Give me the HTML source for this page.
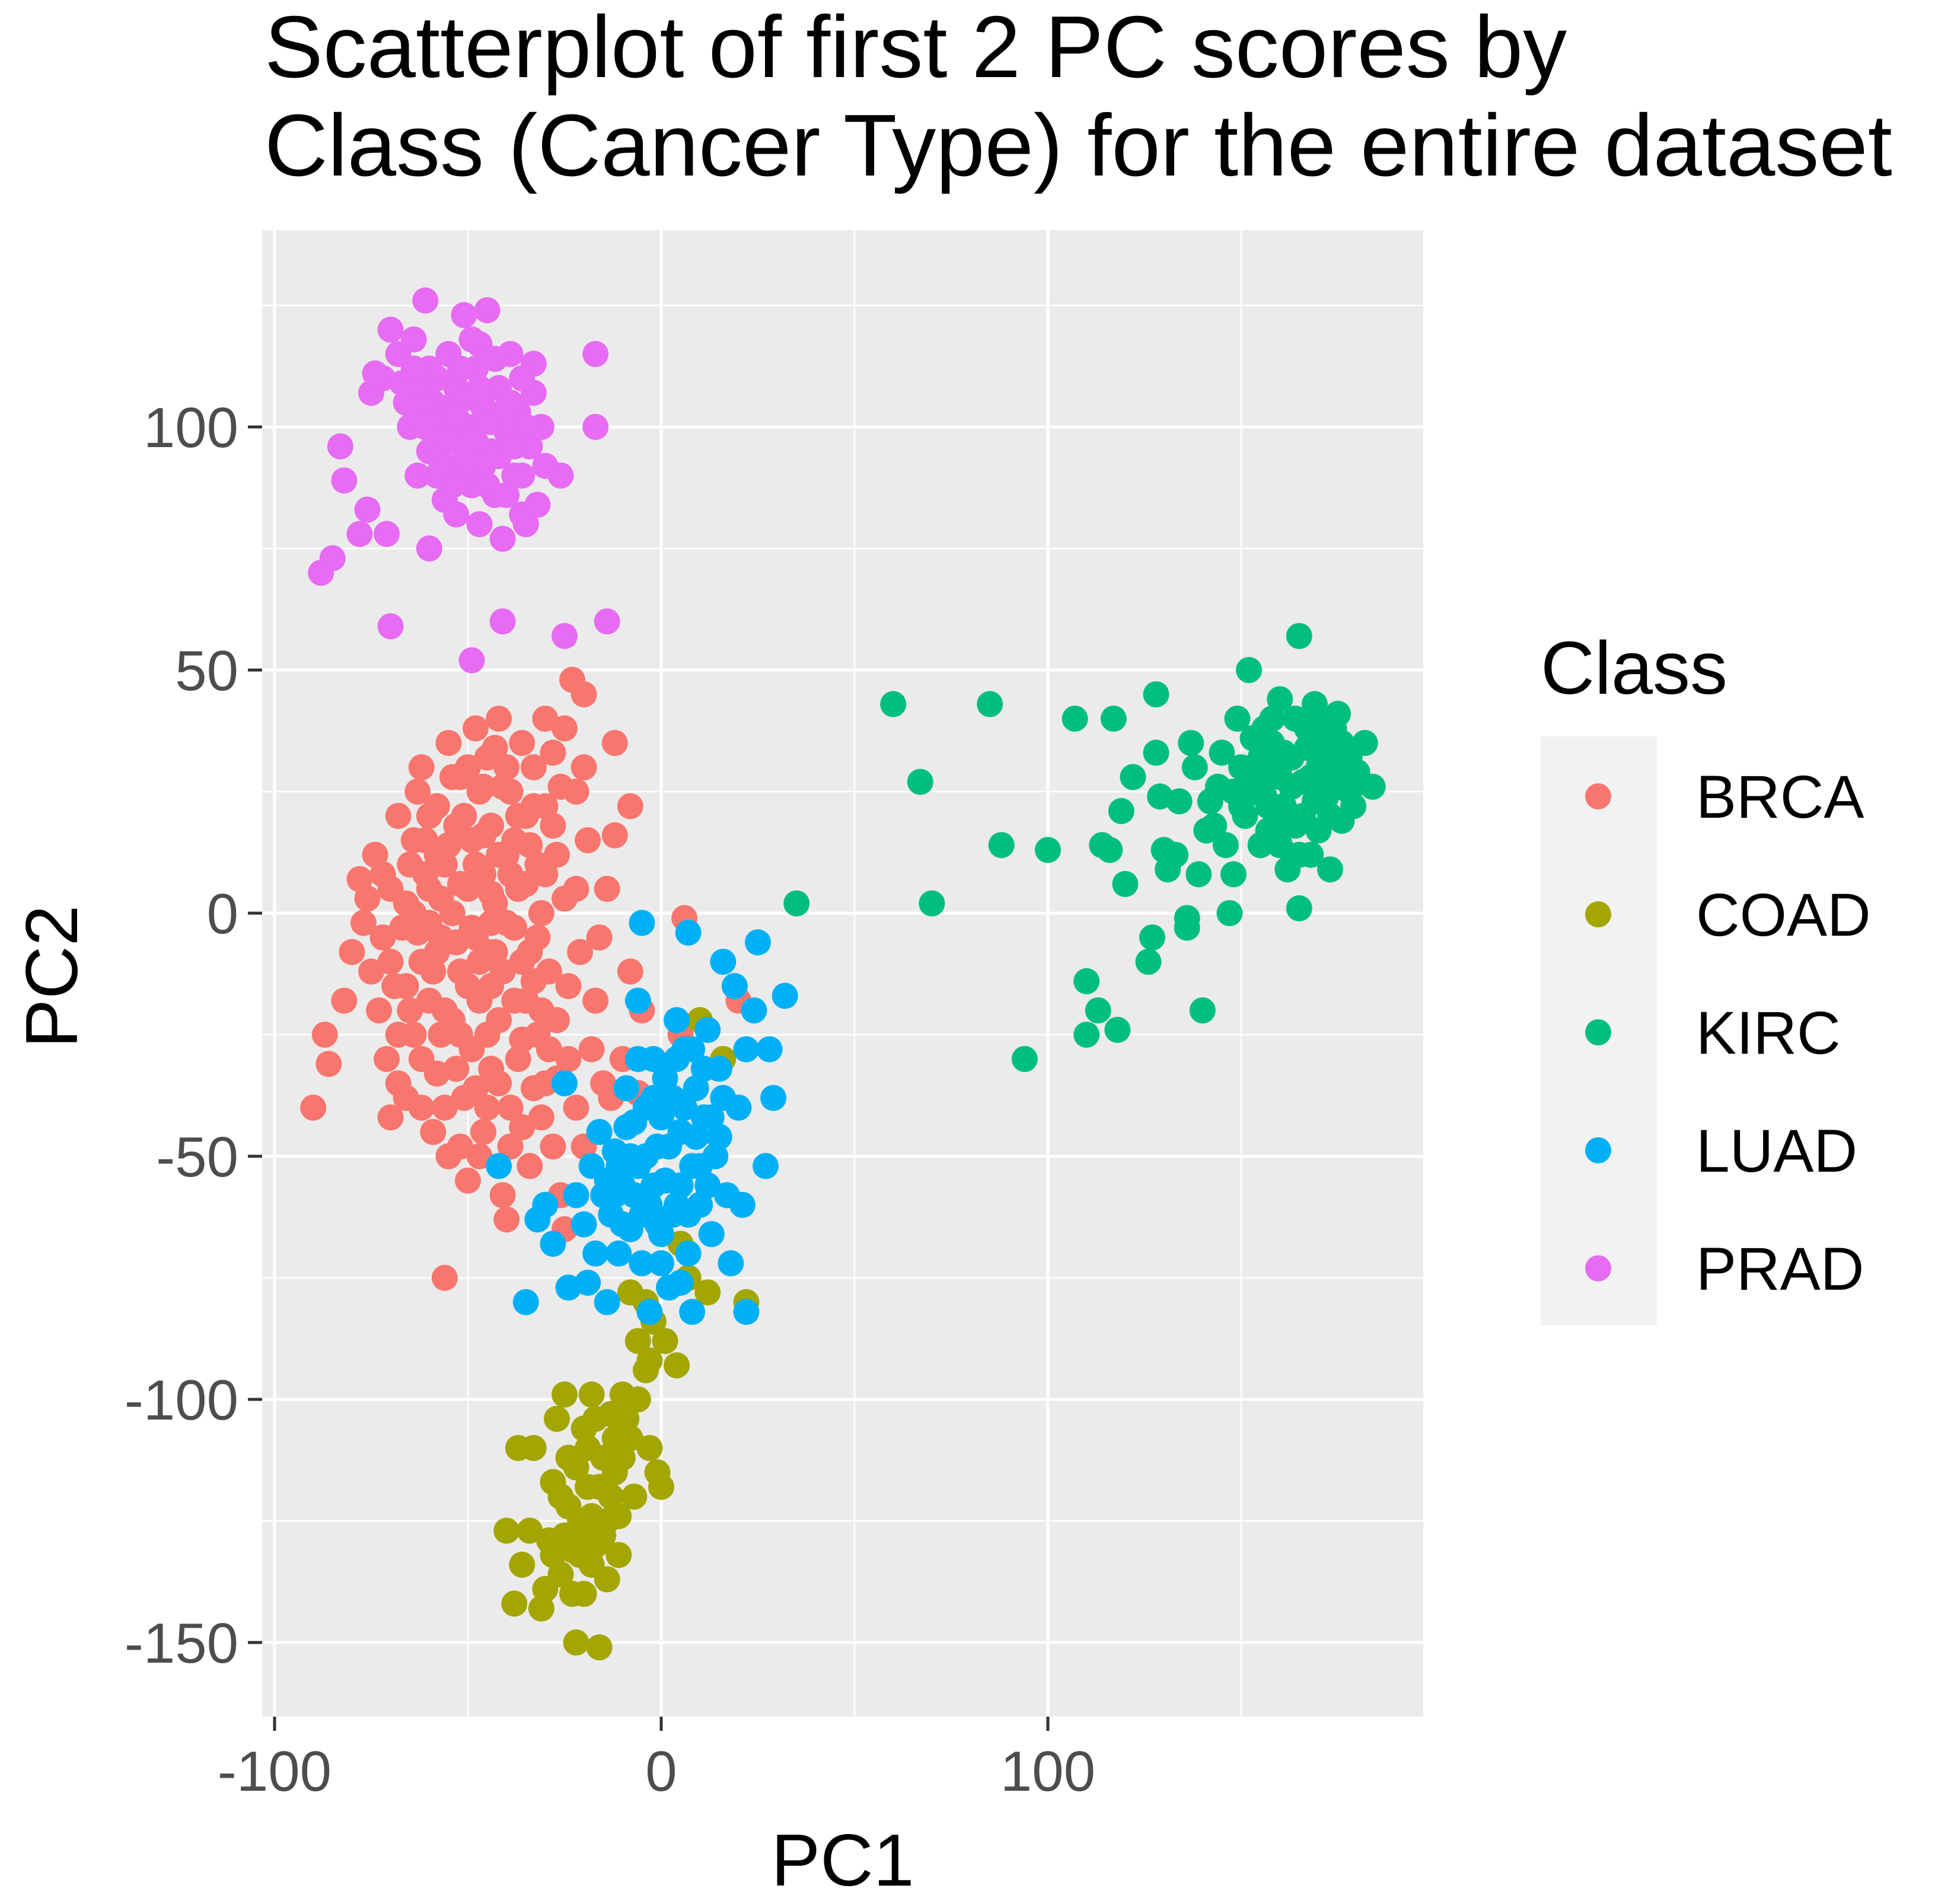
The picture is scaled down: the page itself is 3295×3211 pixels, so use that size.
<!DOCTYPE html>
<html><head><meta charset="utf-8"><style>
html,body{margin:0;padding:0;background:#fff}
svg{display:block}
text{font-family:"Liberation Sans",Arial,sans-serif}
</style></head><body>
<svg id="chart" width="3295" height="3211" viewBox="0 0 3295 3211" xmlns="http://www.w3.org/2000/svg">
<text x="446" y="130" font-size="148" fill="#000">Scatterplot of first 2 PC scores by</text>
<text x="446" y="296" font-size="148" fill="#000">Class (Cancer Type) for the entire dataset</text>
<rect x="442" y="388" width="1958" height="2507" fill="#EBEBEB"/>
<g id="grid"></g>
<g id="points"></g>
<g id="axes"></g>
<text x="1421" y="3180" font-size="124" text-anchor="middle" fill="#000">PC1</text>
<text x="0" y="0" font-size="124" text-anchor="middle" fill="#000" transform="translate(130,1647) rotate(-90)">PC2</text>
<text x="2598" y="1170" font-size="126" fill="#000">Class</text>
<rect x="2598" y="1242" width="196" height="993" fill="#F2F2F2"/>
<g id="legend"></g>
</svg>
<script>
const classes = ["BRCA","COAD","KIRC","LUAD","PRAD"];
const colors = ["#F8766D","#A3A500","#00BF7D","#00B0F6","#E76BF3"];
const xTicks = [-100,0,100];
const xMinor = [-50,50,150];
const yTicks = [-150,-100,-50,0,50,100];
const yMinor = [-125,-75,-25,25,75,125];
const PRAD = [[-88,70],[-85,73],[-83,96],[-82,89],[-78,78],[-76,83],[-75,107],[-72,110],[-71,78],[-70,59],[-70,120],[-68,115],[-66,105],[-65,100],[-64,118],[-63,90],[-61,126],[-60,75],[-60,95],[-58,110],[-57,102],[-56,85],[-55,115],[-54,97],[-53,108],[-52,92],[-51,123],[-50,100],[-49,52],[-49,88],[-48,112],[-47,80],[-46,104],[-45,124],[-44,95],[-43,86],[-42,108],[-41,60],[-41,77],[-40,99],[-39,115],[-38,90],[-37,103],[-36,82],[-35,80],[-34,96],[-33,113],[-33,107],[-32,84],[-31,100],[-30,92],[-26,90],[-25,57],[-17,100],[-17,115],[-14,60],[-62,108],[-57,93],[-47,117],[-53,82],
[-74,111],[-67,109],[-63,103],[-59,105],[-55,104],[-52,112],[-50,106],[-48,97],[-46,92],[-44,101],[-42,94],[-39,105],[-36,110],[-35,100],[-56,98],[-60,112],[-49,118],[-43,114],[-38,96],[-45,88],[-53,102],[-58,90],[-40,86],[-47,108],[-64,112],[-50,93],[-54,88],[-36,90],[-41,103],[-61,100]];
const BRCA = [[-90,-40],[-87,-25],[-86,-31],[-82,-18],[-80,-8],[-78,7],[-77,-2],[-76,3],[-75,-12],[-74,12],[-73,-20],[-72,-5],[-71,-30],[-70,-42],[-70,5],[-69,-15],[-68,20],[-67,-3],[-66,-38],[-65,10],[-64,-25],[-64,0],[-63,25],[-62,-10],[-62,30],[-61,15],[-60,-18],[-60,5],[-59,-45],[-58,-33],[-58,22],[-57,-5],[-56,10],[-56,-75],[-55,-50],[-55,35],[-54,-22],[-54,0],[-53,18],[-52,-12],[-52,28],[-51,-38],[-50,5],[-50,-55],[-49,-28],[-49,15],[-48,38],[-48,-5],[-47,25],[-47,-18],[-46,-45],[-46,8],[-45,-8],[-45,32],[-44,-32],[-44,18],[-43,2],[-42,-22],[-42,40],[-41,-12],[-41,-58],[-40,-63],[-40,12],[-39,25],[-39,-40],[-38,-3],[-37,-30],[-37,5],[-36,35],[-35,-18],[-35,20],[-34,-52],[-34,-8],[-33,30],[-32,-25],[-32,10],[-31,-42],[-31,0],[-30,22],[-30,-35],[-29,-12],[-28,33],[-28,-48],[-27,-22],[-27,12],[-26,-58],[-25,-65],[-25,3],[-24,-30],[-23,48],[-22,25],[-22,-40],[-21,-8],[-20,45],[-20,-48],[-19,15],[-17,-18],[-15,-35],[-14,5],[-13,-38],[-12,35],[-12,16],[-10,-30],[-8,22],[-8,-12],[-6,-37],[-5,-20],[6,-1],[5,-25],[20,-18],[-66,-15],[-58,-8],[-52,-25],[-44,-15],[-38,15],[-36,-10],[-62,-30],[-68,-35],
[-66,2],[-63,-4],[-61,8],[-59,-12],[-57,3],[-56,-20],[-55,14],[-53,-6],[-52,6],[-51,20],[-50,-15],[-49,-3],[-48,10],[-47,-10],[-46,16],[-45,-25],[-44,4],[-43,-8],[-42,12],[-41,26],[-40,-2],[-39,8],[-38,-18],[-37,20],[-36,-26],[-35,6],[-34,14],[-33,-14],[-33,22],[-31,-20],[-30,8],[-29,-28],[-28,18],[-27,-34],[-26,26],[-60,20],[-58,12],[-54,28],[-50,30],[-46,26],[-43,34],[-40,30],[-57,-25],[-53,-32],[-48,-36],[-45,-40],[-42,-35],[-39,-48],[-36,-44],[-33,-36],[-70,-10],[-72,8],[-65,-20],[-68,-25],[-62,-40],[-56,-40],[-52,-48],[-47,-50],[-64,15],[-60,-2],[-44,-2],[-32,-5],[-24,-15],[-22,5],[-18,-28],[-16,-5],[-20,30],[-25,38],[-30,40]];
const COAD = [[-40,-127],[-38,-142],[-37,-110],[-36,-134],[-34,-127],[-33,-110],[-31,-143],[-30,-139],[-29,-129],[-28,-117],[-27,-104],[-26,-136],[-26,-120],[-25,-99],[-24,-112],[-23,-131],[-22,-150],[-21,-125],[-20,-106],[-20,-140],[-19,-118],[-18,-99],[-17,-130],[-16,-151],[-15,-112],[-14,-125],[-14,-137],[-13,-103],[-12,-115],[-11,-132],[-10,-99],[-8,-108],[-7,-120],[-6,-88],[-4,-94],[-3,-110],[-1,-115],[-2,-84],[0,-118],[4,-93],[-4,-80],[1,-88],[5,-68],[12,-78],[22,-80],[10,-22],[16,-30],[7,-75],[-8,-78],
[-24,-122],[-22,-114],[-21,-132],[-19,-110],[-18,-124],[-17,-104],[-16,-118],[-15,-128],[-13,-120],[-12,-108],[-11,-124],[-10,-112],[-9,-104],[-23,-140],[-20,-128],[-18,-134],[-25,-128],[-28,-132],[-14,-112],[-6,-100],[-3,-92]];
const LUAD = [[-42,-52],[-35,-80],[-32,-63],[-30,-60],[-28,-68],[-25,-35],[-24,-77],[-22,-58],[-20,-64],[-19,-76],[-18,-52],[-17,-70],[-16,-45],[-15,-58],[-14,-80],[-13,-62],[-12,-49],[-11,-70],[-10,-56],[-9,-36],[-8,-65],[-7,-43],[-6,-18],[-6,-52],[-5,-72],[-5,-2],[-4,-40],[-3,-60],[-2,-30],[-1,-48],[0,-66],[1,-55],[2,-77],[3,-38],[4,-22],[4,-60],[5,-45],[6,-28],[7,-4],[7,-70],[8,-52],[9,-36],[10,-60],[11,-42],[12,-24],[13,-66],[14,-50],[15,-32],[16,-10],[17,-58],[18,-72],[19,-15],[20,-40],[21,-60],[22,-82],[22,-28],[25,-6],[27,-52],[29,-38],[32,-17],[24,-20],[28,-28],[-3,-82],[8,-82],[-14,-55],
[-12,-58],[-10,-64],[-8,-50],[-7,-58],[-5,-62],[-4,-50],[-2,-56],[-1,-64],[0,-42],[2,-48],[3,-62],[5,-56],[6,-40],[7,-62],[9,-46],[10,-52],[11,-32],[12,-56],[13,-42],[15,-46],[16,-38],[-6,-30],[-2,-38],[1,-34],[4,-30],[8,-28],[-9,-44],[-11,-52],[0,-72],[5,-76]];
const KIRC = [[35,2],[60,43],[67,27],[70,2],[85,43],[88,14],[94,-30],[100,13],[107,40],[110,-14],[110,-25],[113,-20],[114,14],[116,13],[117,40],[118,-24],[119,21],[120,6],[122,28],[126,-10],[127,-5],[128,45],[128,33],[129,24],[130,13],[131,9],[133,12],[134,23],[136,-3],[136,-1],[137,35],[138,30],[139,8],[140,-20],[141,17],[142,23],[144,26],[146,14],[147,0],[148,8],[149,40],[150,30],[151,20],[152,50],[153,36],[154,26],[155,14],[156,38],[157,22],[158,30],[159,18],[160,44],[161,33],[162,9],[163,26],[164,40],[165,57],[165,1],[166,20],[167,34],[168,28],[169,43],[170,17],[171,36],[172,24],[173,9],[174,30],[175,41],[176,19],[177,33],[178,25],[180,29],[182,35],[184,26],[158,40],[150,22],[145,33],[162,20],[168,12],[174,38],[155,32],
[152,28],[156,24],[158,35],[160,28],[161,22],[163,32],[164,18],[166,27],[167,38],[169,23],[170,30],[171,26],[172,33],[173,20],[175,28],[176,35],[178,32],[179,22],[157,17],[153,30],[148,25],[165,12],[170,40],[160,14],[143,18]];
const seriesData = [BRCA, COAD, KIRC, LUAD, PRAD];

const NS = "http://www.w3.org/2000/svg";
const PL = 442, PR = 2400, PT = 388, PB = 2895;
const X0 = 1115, XS = 6.52, Y0 = 1540, YS = 8.2;
function sx(v){ return X0 + v * XS; }
function sy(v){ return Y0 - v * YS; }
function mk(tag, attrs, parent){
  const e = document.createElementNS(NS, tag);
  for (const k in attrs) e.setAttribute(k, attrs[k]);
  parent.appendChild(e);
  return e;
}
const grid = document.getElementById('grid');
xMinor.forEach(v => {
  const l = mk('line', {x1:sx(v), x2:sx(v), y1:PT, y2:PB, stroke:'#fff', 'stroke-width':2.5}, grid);
  
  
});
yMinor.forEach(v => {
  const l = mk('line', {x1:PL, x2:PR, y1:sy(v), y2:sy(v), stroke:'#fff', 'stroke-width':2.5}, grid);
  
  
});
xTicks.forEach(v => {
  const l = mk('line', {x1:sx(v), x2:sx(v), y1:PT, y2:PB, stroke:'#fff', 'stroke-width':5}, grid);
  
  
});
yTicks.forEach(v => {
  const l = mk('line', {x1:PL, x2:PR, y1:sy(v), y2:sy(v), stroke:'#fff', 'stroke-width':5}, grid);
  
  
});
const pts = document.getElementById('points');
seriesData.forEach((arr, i) => {
  arr.forEach(p => {
    const c = mk('circle', {cx:sx(p[0]), cy:sy(p[1]), r:22, fill:colors[i]}, pts);
    
    
  });
});
const axes = document.getElementById('axes');
xTicks.forEach(v => {
  const t = mk('line', {x1:sx(v), x2:sx(v), y1:PB, y2:PB+24, stroke:'#333', 'stroke-width':5}, axes);
  
  
  const tx = mk('text', {x:sx(v), y:PB+125, 'font-size':96, fill:'#4D4D4D', 'text-anchor':'middle'}, axes);
  tx.textContent = String(v);
  
  
});
yTicks.forEach(v => {
  const t = mk('line', {x1:PL-24, x2:PL, y1:sy(v), y2:sy(v), stroke:'#333', 'stroke-width':5}, axes);
  
  
  const tx = mk('text', {x:PL-40, y:sy(v)+34, 'font-size':96, fill:'#4D4D4D', 'text-anchor':'end'}, axes);
  tx.textContent = String(v);
  
  
});
const leg = document.getElementById('legend');
classes.forEach((c, i) => {
  const cy = 1343 + i * 199;
  const d = mk('circle', {cx:2695, cy:cy, r:22, fill:colors[i]}, leg);
  
  
  const t = mk('text', {x:2860, y:cy+36, 'font-size':102, fill:'#000'}, leg);
  t.textContent = c;
  
  
});
</script>
</body></html>
